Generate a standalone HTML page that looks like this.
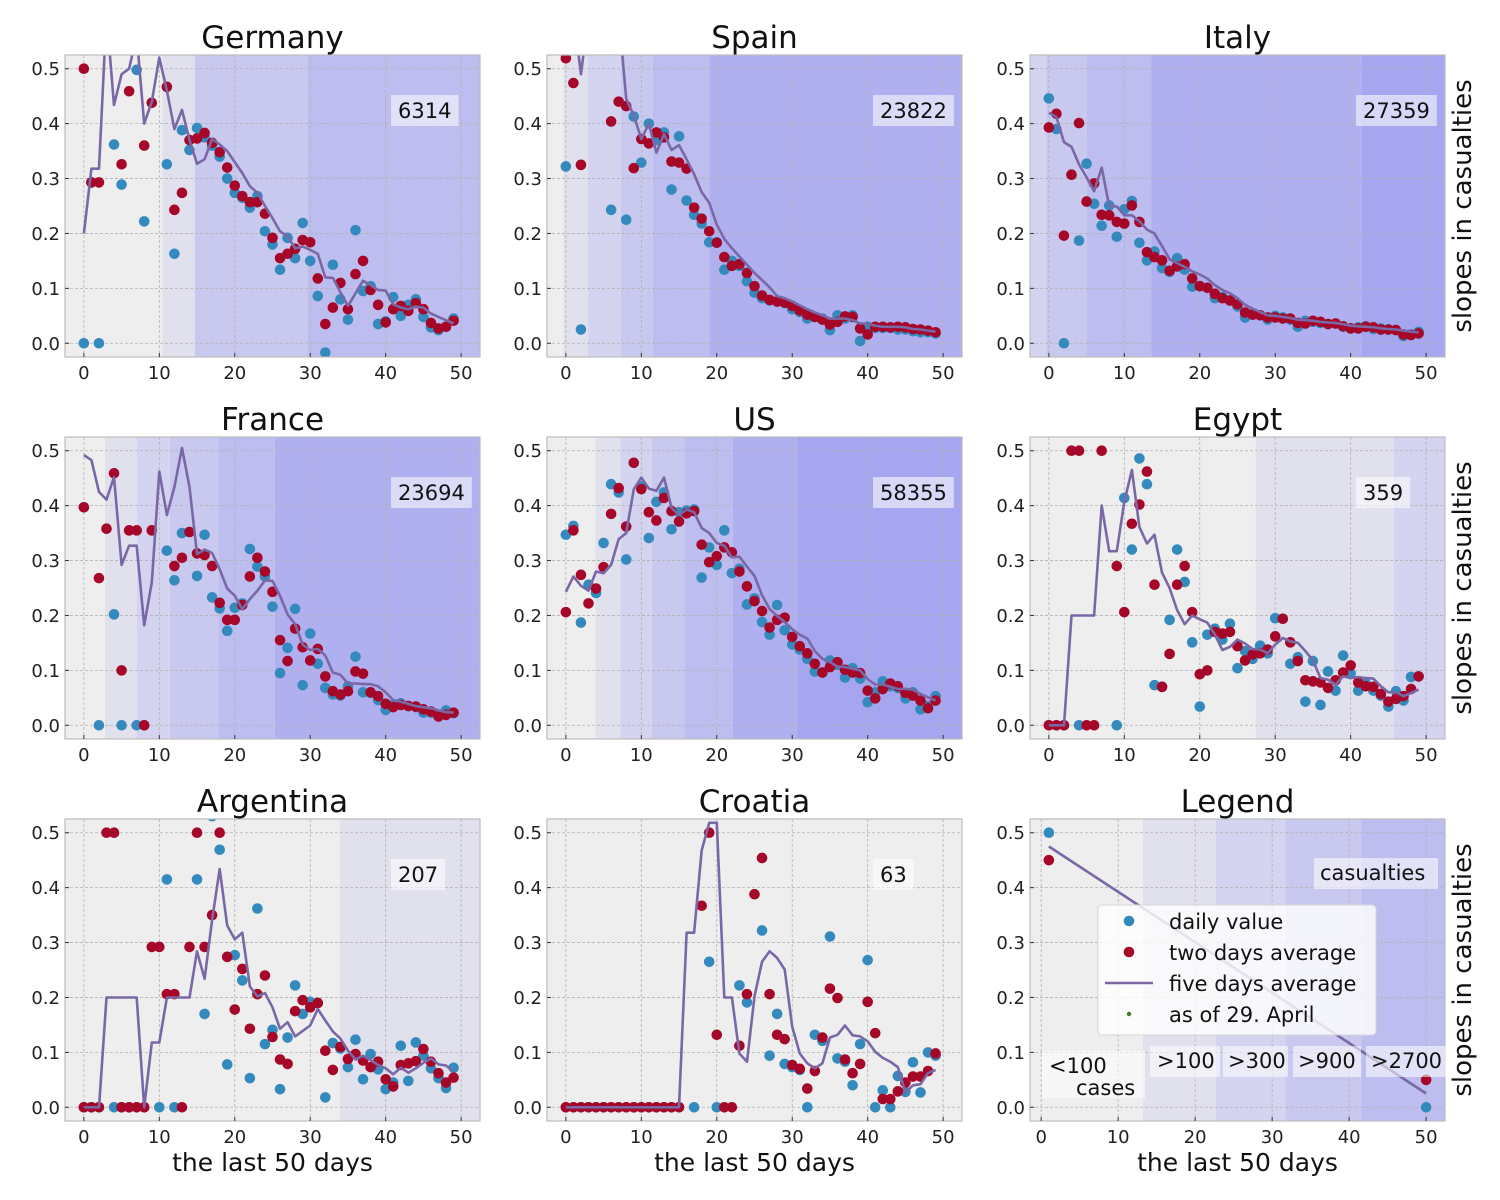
<!DOCTYPE html>
<html><head><meta charset="utf-8">
<style>
html,body{margin:0;padding:0;background:#fff;}
svg{display:block;font-family:"DejaVu Sans","Liberation Sans",sans-serif;}
</style></head>
<body>
<svg id="fig" width="1500" height="1200" viewBox="0 0 1500 1200" xmlns="http://www.w3.org/2000/svg"></svg>
<script>
// ---------- data ----------
const days = [0,1,2,3,4,5,6,7,8,9,10,11,12,13,14,15,16,17,18,19,20,21,22,23,24,25,26,27,28,29,30,31,32,33,34,35,36,37,38,39,40,41,42,43,44,45,46,47,48,49];
const xTicks = [0,10,20,30,40,50];
const yTicks = [0.0,0.1,0.2,0.3,0.4,0.5];
const yTickLabels = ["0.0","0.1","0.2","0.3","0.4","0.5"];
const levelColors = ['#eeeeee','#e1e1ee','#d4d4f0','#c9c9ef','#bdbdf0','#b0b0f0','#a6a6f0'];

const germanyDaily = [0,0.293,0,0.6,0.362,0.289,0.6,0.498,0.222,0.6, 0.6,0.326,0.163,0.388,0.352,0.392,0.375,0.36,0.34,0.30, 0.274,0.265,0.247,0.268,0.204,0.18,0.134,0.192,0.155,0.219, 0.15,0.086,-0.017,0.143,0.08,0.043,0.206,0.095,0.104,0.035, 0.04,0.084,0.05,0.07,0.08,0.048,0.029,0.024,0.03,0.045];
const germanyTwoDay = [0.5,0.293,0.293,0.6,0.6,0.326,0.459,0.6,0.36,0.438, 0.6,0.467,0.243,0.274,0.37,0.373,0.383,0.365,0.348,0.32, 0.287,0.268,0.257,0.257,0.236,0.192,0.155,0.163,0.172,0.188, 0.184,0.118,0.035,0.065,0.11,0.062,0.126,0.15,0.097,0.07, 0.038,0.062,0.068,0.059,0.073,0.062,0.037,0.027,0.03,0.041];
const germanyFiveDay = [0.2,0.318,0.318,0.6,0.434,0.49,0.5,0.56,0.40,0.44, 0.52,0.46,0.39,0.425,0.37,0.327,0.335,0.372,0.362,0.35, 0.33,0.31,0.286,0.274,0.25,0.228,0.204,0.195,0.173,0.176, 0.17,0.163,0.12,0.119,0.093,0.068,0.091,0.114,0.106,0.097, 0.096,0.071,0.065,0.062,0.067,0.065,0.054,0.048,0.042,0.036];
const germanyBandStarts = [-99,10.4,14.7,29.6];
const germanyBandLevels = [0,1,3,4];

const spainDaily = [0.322,0.6,0.025,0.6,0.6,0.6,0.243,0.6,0.225,0.413, 0.329,0.4,0.37,0.384,0.28,0.377,0.26,0.234,0.218,0.184, 0.184,0.134,0.15,0.141,0.113,0.092,0.082,0.078,0.076,0.073, 0.062,0.057,0.045,0.048,0.045,0.024,0.051,0.045,0.051,0.004, 0.03,0.028,0.028,0.028,0.025,0.025,0.022,0.02,0.02,0.018];
const spainTwoDay = [0.519,0.474,0.325,0.6,0.6,0.6,0.404,0.44,0.432,0.319, 0.372,0.364,0.384,0.375,0.331,0.329,0.318,0.247,0.227,0.204, 0.183,0.157,0.141,0.144,0.128,0.104,0.087,0.079,0.076,0.074, 0.068,0.06,0.052,0.048,0.043,0.034,0.039,0.049,0.048,0.027, 0.016,0.03,0.03,0.029,0.03,0.029,0.026,0.025,0.023,0.02];
const spainFiveDay = [0.6,0.6,0.49,0.6,0.6,0.6,0.6,0.6,0.445,0.415, 0.372,0.4,0.347,0.381,0.352,0.361,0.335,0.308,0.275,0.256, 0.216,0.19,0.173,0.158,0.143,0.128,0.115,0.102,0.086,0.082, 0.076,0.069,0.062,0.056,0.051,0.045,0.045,0.045,0.042,0.036, 0.036,0.032,0.03,0.03,0.03,0.029,0.026,0.025,0.023,0.021];
const spainBandStarts = [-99,-0.3,2.9,7.3,11.5,19.0];
const spainBandLevels = [0,1,2,3,4,5];

const italyDaily = [0.446,0.39,0.0,0.307,0.187,0.327,0.254,0.214,0.251,0.194, 0.244,0.259,0.183,0.151,0.167,0.137,0.13,0.155,0.134,0.103, 0.104,0.101,0.082,0.084,0.078,0.067,0.047,0.054,0.051,0.043, 0.05,0.047,0.043,0.03,0.041,0.039,0.037,0.035,0.036,0.03, 0.027,0.029,0.031,0.026,0.027,0.025,0.024,0.013,0.016,0.021];
const italyTwoDay = [0.393,0.418,0.196,0.307,0.401,0.258,0.291,0.234,0.233,0.221, 0.218,0.251,0.221,0.166,0.157,0.151,0.132,0.14,0.144,0.118, 0.104,0.101,0.09,0.082,0.078,0.071,0.056,0.052,0.051,0.047, 0.047,0.045,0.045,0.037,0.036,0.041,0.039,0.035,0.036,0.031, 0.027,0.027,0.03,0.029,0.025,0.025,0.024,0.016,0.015,0.018];
const italyFiveDay = [0.42,0.412,0.366,0.358,0.326,0.302,0.277,0.32,0.25,0.249, 0.233,0.233,0.222,0.207,0.2,0.177,0.153,0.146,0.139,0.131, 0.125,0.118,0.106,0.097,0.091,0.082,0.07,0.063,0.057,0.051, 0.05,0.048,0.046,0.043,0.042,0.041,0.039,0.038,0.037,0.035, 0.032,0.031,0.03,0.029,0.027,0.026,0.025,0.023,0.021,0.02];
const italyBandStarts = [-99,-0.4,5.0,13.6,41.4];
const italyBandLevels = [2,3,4,5,6];

const franceDaily = [0.397,0.6,0,0.6,0.202,0,0.6,0,0,0.6, 0.6,0.318,0.264,0.35,0.352,0.272,0.347,0.233,0.213,0.172, 0.214,0.222,0.321,0.289,0.271,0.216,0.095,0.141,0.212,0.073, 0.167,0.112,0.068,0.056,0.054,0.071,0.125,0.06,0.059,0.046, 0.028,0.037,0.04,0.035,0.033,0.023,0.023,0.016,0.027,0.022];
const franceTwoDay = [0.397,0.6,0.268,0.358,0.459,0.1,0.355,0.355,0,0.355, 0.6,0.6,0.29,0.305,0.352,0.313,0.31,0.29,0.223,0.192, 0.192,0.219,0.271,0.305,0.28,0.243,0.155,0.117,0.176,0.142, 0.118,0.139,0.089,0.062,0.056,0.062,0.098,0.094,0.06,0.053, 0.039,0.033,0.037,0.035,0.034,0.029,0.025,0.016,0.019,0.023];
const franceFiveDay = [0.492,0.483,0.425,0.411,0.452,0.292,0.327,0.327,0.182,0.26, 0.462,0.383,0.434,0.505,0.434,0.312,0.32,0.314,0.284,0.249, 0.236,0.211,0.23,0.245,0.264,0.263,0.236,0.202,0.184,0.147, 0.137,0.139,0.127,0.096,0.092,0.076,0.076,0.075,0.075,0.071, 0.06,0.046,0.043,0.039,0.035,0.033,0.031,0.027,0.024,0.023];
const franceBandStarts = [-99,2.8,7.0,11.4,17.8,25.3];
const franceBandLevels = [0,1,2,3,4,5];

const usDaily = [0.347,0.363,0.187,0.256,0.241,0.332,0.439,0.424,0.302,0.6, 0.435,0.341,0.407,0.424,0.357,0.388,0.391,0.393,0.269,0.324, 0.292,0.355,0.277,0.285,0.22,0.231,0.188,0.165,0.219,0.173, 0.147,0.138,0.121,0.098,0.096,0.118,0.11,0.087,0.104,0.085, 0.042,0.06,0.08,0.071,0.068,0.049,0.06,0.029,0.035,0.053];
const usTwoDay = [0.206,0.355,0.274,0.222,0.249,0.288,0.385,0.432,0.362,0.478, 0.43,0.388,0.373,0.414,0.39,0.371,0.386,0.39,0.329,0.297, 0.308,0.324,0.315,0.28,0.253,0.226,0.208,0.178,0.192,0.196, 0.161,0.144,0.131,0.112,0.096,0.106,0.115,0.101,0.096,0.095, 0.063,0.049,0.066,0.076,0.071,0.059,0.054,0.045,0.031,0.045];
const usFiveDay = [0.243,0.271,0.254,0.245,0.28,0.277,0.292,0.339,0.35,0.43, 0.451,0.431,0.427,0.451,0.396,0.383,0.393,0.388,0.359,0.35, 0.332,0.327,0.306,0.307,0.289,0.272,0.237,0.212,0.199,0.188, 0.175,0.165,0.158,0.135,0.121,0.115,0.107,0.106,0.103,0.1, 0.084,0.074,0.074,0.07,0.066,0.066,0.065,0.057,0.051,0.045];
const usBandStarts = [-99,3.9,7.2,11.4,15.7,22.1,30.7];
const usBandLevels = [0,1,2,3,4,5,6];

const egyptDaily = [0,0,0,0.6,0,0.6,0.6,0.6,0.6,0, 0.414,0.32,0.486,0.439,0.073,0.07,0.192,0.32,0.261,0.151, 0.034,0.165,0.176,0.156,0.185,0.104,0.135,0.121,0.145,0.131, 0.195,0.194,0.112,0.124,0.043,0.117,0.037,0.098,0.063,0.127, 0.094,0.063,0.076,0.063,0.054,0.034,0.062,0.045,0.088,0.089];
const egyptTwoDay = [0,0,0,0.5,0.5,0,0,0.5,0.6,0.29, 0.206,0.367,0.402,0.462,0.256,0.07,0.13,0.256,0.29,0.206, 0.093,0.1,0.17,0.167,0.17,0.144,0.118,0.129,0.131,0.138, 0.162,0.194,0.151,0.117,0.082,0.08,0.078,0.068,0.082,0.096, 0.109,0.078,0.071,0.07,0.057,0.043,0.048,0.053,0.066,0.089];
const egyptFiveDay = [0,0,0,0.2,0.2,0.2,0.2,0.4,0.317,0.317, 0.407,0.465,0.361,0.331,0.347,0.278,0.25,0.21,0.184,0.2, 0.193,0.187,0.165,0.137,0.143,0.156,0.149,0.139,0.138,0.131, 0.147,0.159,0.153,0.15,0.135,0.118,0.086,0.083,0.074,0.089, 0.086,0.088,0.086,0.085,0.071,0.06,0.06,0.053,0.059,0.065];
const egyptBandStarts = [-99,27.4,45.7];
const egyptBandLevels = [0,1,2];

const argentinaDaily = [0,0,0,0.6,0,0,0,0,0,0.6, 0,0.415,0,0.6,0.6,0.415,0.17,0.53,0.469,0.078, 0.277,0.231,0.053,0.362,0.115,0.141,0.033,0.127,0.222,0.17, 0.192,0.19,0.018,0.117,0.107,0.073,0.123,0.051,0.097,0.069, 0.033,0.045,0.112,0.048,0.118,0.094,0.071,0.053,0.035,0.072];
const argentinaTwoDay = [0,0,0,0.5,0.5,0,0,0,0,0.292, 0.292,0.206,0.206,0,0.292,0.5,0.292,0.35,0.5,0.274, 0.178,0.252,0.143,0.206,0.24,0.128,0.087,0.079,0.175,0.195, 0.182,0.19,0.103,0.068,0.11,0.088,0.097,0.085,0.073,0.083, 0.051,0.038,0.077,0.08,0.084,0.106,0.083,0.062,0.045,0.054];
const argentinaFiveDay = [0,0,0,0.2,0.2,0.2,0.2,0.2,0,0.118, 0.118,0.2,0.2,0.2,0.2,0.284,0.234,0.341,0.434,0.331, 0.306,0.318,0.22,0.202,0.208,0.182,0.143,0.155,0.129,0.139, 0.149,0.179,0.158,0.138,0.125,0.103,0.087,0.094,0.086,0.077, 0.071,0.06,0.072,0.063,0.071,0.081,0.089,0.078,0.076,0.065];
const argentinaBandStarts = [-99,33.9];
const argentinaBandLevels = [0,1];

const croatiaDaily = [0,0,0,0,0,0,0,0,0,0, 0,0,0,0,0,0,0.6,0,0.6,0.265, 0,0.6,0.6,0.222,0.191,0.6,0.322,0.094,0.17,0.079, 0.073,0.068,0,0.132,0.121,0.311,0.089,0.083,0.04,0.115, 0.268,0,0.031,0,0.057,0.028,0.082,0.027,0.1,0.094];
const croatiaTwoDay = [0,0,0,0,0,0,0,0,0,0, 0,0,0,0,0,0,0.6,0.6,0.367,0.5, 0.132,0,0,0.112,0.206,0.388,0.454,0.206,0.132,0.124, 0.077,0.07,0.034,0.066,0.127,0.216,0.199,0.087,0.062,0.079, 0.192,0.135,0.015,0.015,0.029,0.045,0.056,0.056,0.066,0.098];
const croatiaFiveDay = [0,0,0,0,0,0,0,0,0,0, 0,0,0,0,0,0,0.318,0.318,0.468,0.518, 0.518,0.2,0.2,0.098,0.083,0.202,0.265,0.284,0.272,0.251, 0.147,0.098,0.08,0.071,0.08,0.127,0.132,0.149,0.131,0.129, 0.12,0.101,0.09,0.083,0.073,0.027,0.04,0.042,0.062,0.068];
const croatiaBandStarts = [-99];
const croatiaBandLevels = [0];

const legendDays = [1,50];
const legendDaily = [0.5,0.0];
const legendTwoDay = [0.45,0.05];
const legendFiveDay = [0.475,0.025];
const legendBandStarts = [-99,13.2,22.7,31.7,41.6];
const legendBandLevels = [0,1,2,3,4];
const legendBandLabels = [">100",">300",">900",">2700"];

const countryNames = ["Germany","Spain","Italy","France","US","Egypt","Argentina","Croatia"];
const casualtyCounts = ["6314","23822","27359","23694","58355","359","207","63"];

// ---------- drawing ----------
const NS = "http://www.w3.org/2000/svg";
const svg = document.getElementById('fig');
function mk(tag, attrs, parent){
  const e = document.createElementNS(NS, tag);
  for (const k in attrs) e.setAttribute(k, attrs[k]);
  (parent||svg).appendChild(e);
  return e;
}
const colLefts = [65,547,1030], rowTops = [55,437,819];
const W = 415, H = 302, YMIN = -0.025, YMAX = 0.525;

function drawPanel(idx, title, xd, daily, two, five, bandStarts, bandLevels, xmin, xmax, count){
  const col = idx % 3, row = Math.floor(idx / 3);
  const L = colLefts[col], T = rowTops[row];
  const sx = v => L + (v - xmin) / (xmax - xmin) * W;
  const sy = v => T + (YMAX - v) / (YMAX - YMIN) * H;
  const slug = title.toLowerCase().replace(/[^a-z]/g,'');
  const g = mk('g', {});
  
  
  const cp = mk('clipPath', {id:'clip'+idx}, g);
  mk('rect', {x:L, y:T, width:W, height:H}, cp);
  // bands
  const bg = mk('g', {'clip-path':'url(#clip'+idx+')'}, g);
  for (let i = 0; i < bandStarts.length; i++){
    const x0 = Math.max(L, sx(bandStarts[i]));
    const x1 = i+1 < bandStarts.length ? sx(bandStarts[i+1]) : L + W;
    const r = mk('rect', {x:x0, y:T, width:Math.max(0,x1-x0), height:H, fill:levelColors[bandLevels[i]]}, bg);
    
    
  }
  // grid
  for (const t of xTicks){
    const x = sx(t);
    mk('line', {x1:x, x2:x, y1:T, y2:T+H, stroke:'#b2b2b2', 'stroke-width':0.8, 'stroke-dasharray':'3,2'}, bg);
  }
  yTicks.forEach(t => {
    const y = sy(t);
    mk('line', {x1:L, x2:L+W, y1:y, y2:y, stroke:'#b2b2b2', 'stroke-width':0.8, 'stroke-dasharray':'3,2'}, bg);
  });
  // series
  const dg = mk('g', {'clip-path':'url(#clip'+idx+')'}, g);
  daily.forEach((v,i) => {
    const c = mk('circle', {cx:sx(xd[i]), cy:sy(v), r:5.3, fill:'#348ABD'}, dg);
    
    
  });
  two.forEach((v,i) => {
    const c = mk('circle', {cx:sx(xd[i]), cy:sy(v), r:5.3, fill:'#A60628'}, dg);
    
    
  });
  const pts = five.map((v,i) => sx(xd[i]).toFixed(1)+','+sy(v).toFixed(1)).join(' ');
  const pl = mk('polyline', {points:pts, fill:'none', stroke:'#7A68A6', 'stroke-width':2.6, 'stroke-linejoin':'round'}, dg);
  
  
  // frame
  const fr = mk('rect', {x:L, y:T, width:W, height:H, fill:'none', stroke:'#bcbcbc', 'stroke-width':1.2}, g);
  
  
  // ticks
  xTicks.forEach(t => {
    const x = sx(t);
    mk('line', {x1:x, x2:x, y1:T+H, y2:T+H-4, stroke:'#333', 'stroke-width':1}, g);
    const tx = mk('text', {x:x, y:T+H+22, 'font-size':18, 'text-anchor':'middle', fill:'#222'}, g);
    tx.textContent = String(t);
    
    
  });
  yTicks.forEach((t,i) => {
    const y = sy(t);
    mk('line', {x1:L, x2:L+4, y1:y, y2:y, stroke:'#333', 'stroke-width':1}, g);
    const ty = mk('text', {x:L-5, y:y+6.5, 'font-size':18, 'text-anchor':'end', fill:'#222'}, g);
    ty.textContent = yTickLabels[i];
    
    
  });
  // title
  const tt = mk('text', {x:L+W/2, y:T-7, 'font-size':31, 'text-anchor':'middle', fill:'#111'}, g);
  tt.textContent = title;
  
  
  // count annotation
  if (count !== null){
    const bx = mk('rect', {x:L+326, y:T+40, width:10, height:31, fill:'#ffffff', 'fill-opacity':0.55}, g);
    
    
    const ct = mk('text', {x:L+333, y:T+63, 'font-size':21, fill:'#111'}, g);
    ct.textContent = count;
    
    
    let w = 0;
    try { w = ct.getComputedTextLength(); } catch(e) { w = count.length*13.4; }
    if (!w) w = count.length*13.4;
    bx.setAttribute('width', w + 14);
  }
  // axis labels
  if (row === 2){
    const xl = mk('text', {x:L+W/2, y:T+H+50, 'font-size':25, 'text-anchor':'middle', fill:'#111'}, g);
    xl.textContent = 'the last 50 days';
    
    
  }
  if (col === 2){
    const cy = T + H/2;
    const yl = mk('text', {x:0, y:0, 'font-size':26, 'text-anchor':'middle', fill:'#111', transform:'translate(1471,'+cy+') rotate(-90)'}, g);
    yl.textContent = 'slopes in casualties';
    
    
  }
  return {sx, sy, g, L, T};
}

drawPanel(0, countryNames[0], days, germanyDaily, germanyTwoDay, germanyFiveDay, germanyBandStarts, germanyBandLevels, -2.5, 52.5, casualtyCounts[0]);
drawPanel(1, countryNames[1], days, spainDaily, spainTwoDay, spainFiveDay, spainBandStarts, spainBandLevels, -2.5, 52.5, casualtyCounts[1]);
drawPanel(2, countryNames[2], days, italyDaily, italyTwoDay, italyFiveDay, italyBandStarts, italyBandLevels, -2.5, 52.5, casualtyCounts[2]);
drawPanel(3, countryNames[3], days, franceDaily, franceTwoDay, franceFiveDay, franceBandStarts, franceBandLevels, -2.5, 52.5, casualtyCounts[3]);
drawPanel(4, countryNames[4], days, usDaily, usTwoDay, usFiveDay, usBandStarts, usBandLevels, -2.5, 52.5, casualtyCounts[4]);
drawPanel(5, countryNames[5], days, egyptDaily, egyptTwoDay, egyptFiveDay, egyptBandStarts, egyptBandLevels, -2.5, 52.5, casualtyCounts[5]);
drawPanel(6, countryNames[6], days, argentinaDaily, argentinaTwoDay, argentinaFiveDay, argentinaBandStarts, argentinaBandLevels, -2.5, 52.5, casualtyCounts[6]);
drawPanel(7, countryNames[7], days, croatiaDaily, croatiaTwoDay, croatiaFiveDay, croatiaBandStarts, croatiaBandLevels, -2.5, 52.5, casualtyCounts[7]);
const lp = drawPanel(8, 'Legend', legendDays, legendDaily, legendTwoDay, legendFiveDay, legendBandStarts, legendBandLevels, -1.45, 52.45, null);

// legend panel annotations
function labelBox(x, y, w, h, lines, name){
  const r = mk('rect', {x:x, y:y, width:w, height:h, fill:'#ffffff', 'fill-opacity':0.55}, lp.g);
  
  
  lines.forEach(ln => {
    const t = mk('text', {x:ln[0], y:ln[1], 'font-size':21, fill:'#111'}, lp.g);
    t.textContent = ln[2];
    
    
  });
}
labelBox(1042, 1051, 103, 47, [[1049,1073,'<100'],[1076,1095,'cases']], 'below-100-label');
labelBox(1150, 1046, 70, 31, [[1157,1068,legendBandLabels[0]]], 'above-100-label');
labelBox(1223, 1046, 65, 31, [[1228,1068,legendBandLabels[1]]], 'above-300-label');
labelBox(1293, 1046, 68, 31, [[1298,1068,legendBandLabels[2]]], 'above-900-label');
labelBox(1366, 1046, 87, 31, [[1371,1068,legendBandLabels[3]]], 'above-2700-label');
labelBox(1314, 858, 124, 31, [[1320,880,'casualties']], 'casualties-label');

// legend box
const lg = mk('g', {});


const lbox = mk('rect', {x:1098, y:905, width:278, height:130, rx:4, fill:'#ffffff', 'fill-opacity':0.8, stroke:'#d6d6d6', 'stroke-width':1}, lg);


const e1 = mk('circle', {cx:1129, cy:921, r:5.3, fill:'#348ABD'}, lg);


const e2 = mk('circle', {cx:1129, cy:952, r:5.3, fill:'#A60628'}, lg);


const e3 = mk('line', {x1:1105, x2:1153, y1:983, y2:983, stroke:'#7A68A6', 'stroke-width':2.6}, lg);


const e4 = mk('circle', {cx:1129, cy:1014, r:2.2, fill:'#467821'}, lg);


[['daily value',929],['two days average',960],['five days average',991],['as of 29. April',1022]].forEach(en => {
  const t = mk('text', {x:1169, y:en[1], 'font-size':21, fill:'#111'}, lg);
  t.textContent = en[0];
  
  
});
</script>
</body></html>
